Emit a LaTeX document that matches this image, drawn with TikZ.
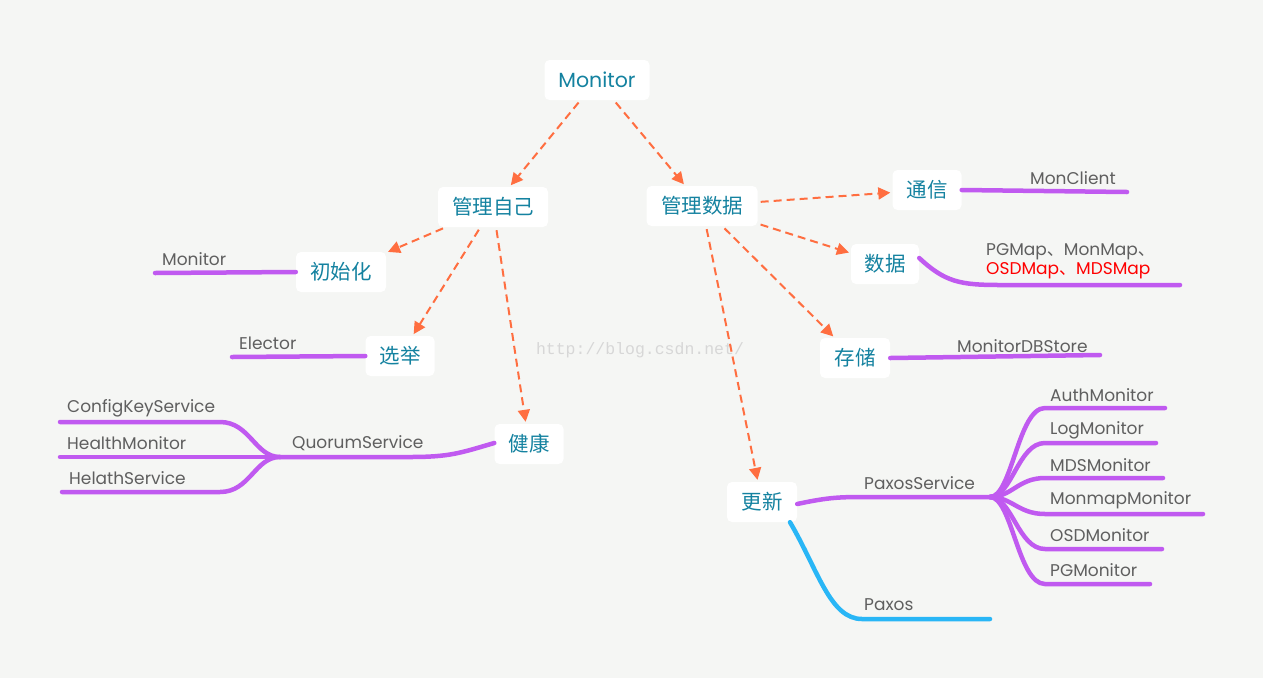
\documentclass[tikz,border=0pt]{standalone}
\usepackage{fontspec}
\setmainfont{Poppins}
\newfontfamily\cjk{Noto Sans CJK SC}
\newfontfamily\wmfont{Liberation Mono}
\usetikzlibrary{arrows.meta}
\definecolor{bg}{RGB}{245,246,244}
\definecolor{pur}{RGB}{192,90,240}
\definecolor{sky}{RGB}{41,182,246}
\definecolor{org}{RGB}{255,110,64}
\definecolor{teal}{RGB}{20,130,160}
\definecolor{lbl}{RGB}{95,95,95}
\definecolor{wm}{RGB}{215,215,215}
\tikzset{
  box/.style={fill=white, rounded corners=5pt, inner sep=0pt, text=teal, font=\cjk\fontsize{20.5}{24}\selectfont, minimum height=40pt},
  dasharrow/.style={draw=org, line width=2pt, dash pattern=on 8pt off 5pt, -{Triangle[length=12pt,width=12pt]}, shorten >=2pt, shorten <=3pt},
  branch/.style={draw=pur, line width=4.5pt, line cap=round},
  bluebranch/.style={draw=sky, line width=4.5pt, line cap=round},
  leaf/.style={anchor=west, inner sep=0pt, text=lbl, font=\fontsize{17}{20}\selectfont}
}
\begin{document}
\begin{tikzpicture}[x=1pt,y=-1pt]
\fill[bg] (0,0) rectangle (1263,678);
\useasboundingbox (0,0) rectangle (1263,678);

% watermark
\node[inner sep=0pt, text=wm, font=\wmfont\fontsize{16.5}{18}\selectfont] (wm) at (640,350) {http://blog.csdn.net/};

% main nodes
\node[box, minimum width=105pt, font=\fontsize{20.5}{24}\selectfont] (mon) at (597,80) {Monitor};
\node[box, minimum width=110pt] (gl) at (493,207) {管理自己};
\node[box, minimum width=111pt] (gd) at (702,206) {管理数据};
\node[box, minimum width=69pt] (tx) at (927,190) {通信};
\node[box, minimum width=68pt] (sj) at (885,264) {数据};
\node[box, minimum width=70pt] (cc) at (855,358) {存储};
\node[box, minimum width=90pt] (csh) at (341,272) {初始化};
\node[box, minimum width=69pt] (xj) at (400,356) {选举};
\node[box, minimum width=69pt] (jk) at (529,444) {健康};
\node[box, minimum width=70pt] (gx) at (762,502) {更新};

% dashed arrows
\draw[dasharrow] (mon) -- (gl);
\draw[dasharrow] (mon) -- (gd);
\draw[dasharrow] (gl) -- (csh);
\draw[dasharrow] (gl) -- (xj);
\draw[dasharrow] (gl) -- (jk);
\draw[dasharrow] (gd) -- (tx);
\draw[dasharrow] (gd) -- (sj);
\draw[dasharrow] (gd) -- (cc);
\draw[dasharrow] (gd) -- (gx);

% coordinates for free ends
\coordinate (txe) at (1127,192);
\coordinate (sje) at (1180,285);
\coordinate (cce) at (1100,355);
\coordinate (cshe) at (155,273);
\coordinate (xje) at (232,357);
\coordinate (qj) at (280,457);
\coordinate (ck) at (60,422);
\coordinate (hm) at (60,457);
\coordinate (hs) at (62,492);
\coordinate (pj) at (990,497);
\coordinate (am) at (1165,408);
\coordinate (lm) at (1156,443);
\coordinate (mm) at (1163,478);
\coordinate (mpm) at (1203,514);
\coordinate (om) at (1162,549);
\coordinate (pm) at (1150,584);
\coordinate (px) at (990,619);

% purple branches
\draw[branch] (tx.east) -- (txe);
\draw[branch] ([yshift=6pt]sj.east) .. controls (945,282) and (960,285) .. (1000,285) -- (sje);
\draw[branch] (cc.east) -- (cce);
\draw[branch] (csh.west) -- (cshe);
\draw[branch] (xj.west) -- (xje);
\draw[branch] ([yshift=1pt]jk.west) .. controls (460,453) and (450,457) .. (410,457) -- (qj);
\draw[branch] (qj) .. controls (255,457) and (250,422) .. (220,422) -- (ck);
\draw[branch] (qj) -- (hm);
\draw[branch] (qj) .. controls (255,457) and (250,492) .. (220,492) -- (hs);
\draw[branch] ([yshift=-2pt]gx.east) .. controls (830,497) and (840,497) .. (870,497) -- (pj);
\foreach \t/\y in {am/408,lm/443,mm/478,mpm/514,om/549,pm/584}{
  \draw[branch] (pj) .. controls (1012,497) and (1018,\y) .. (1045,\y) -- (\t);
}
\draw[bluebranch] ([xshift=28pt]gx.south) .. controls (818,570) and (830,619) .. (862,619) -- (px);

% leaf labels
\node[leaf] (l1) at (1030,178) {MonClient};
\node[leaf] (l2) at (986,252) {PGMap{\cjk 、}MonMap{\cjk 、}};
\node[leaf, text=red] (l3) at (986,271) {OSDMap{\cjk 、}MDSMap};
\node[leaf] (l4) at (957,346) {MonitorDBStore};
\node[leaf] (l5) at (162,259) {Monitor};
\node[leaf] (l6) at (239,343) {Elector};
\node[leaf] (l7) at (67,408) {ConfigKeyService};
\node[leaf] (l8) at (67,443) {HealthMonitor};
\node[leaf] (l9) at (69,478) {HelathService};
\node[leaf] (l10) at (292,443) {QuorumService};
\node[leaf] (l11) at (864,483) {PaxosService};
\node[leaf] (l12) at (864,605) {Paxos};
\node[leaf] (l13) at (1050,395) {AuthMonitor};
\node[leaf] (l14) at (1050,430) {LogMonitor};
\node[leaf] (l15) at (1050,465) {MDSMonitor};
\node[leaf] (l16) at (1050,500) {MonmapMonitor};
\node[leaf] (l17) at (1050,535) {OSDMonitor};
\node[leaf] (l18) at (1050,570) {PGMonitor};
\end{tikzpicture}
\end{document}
